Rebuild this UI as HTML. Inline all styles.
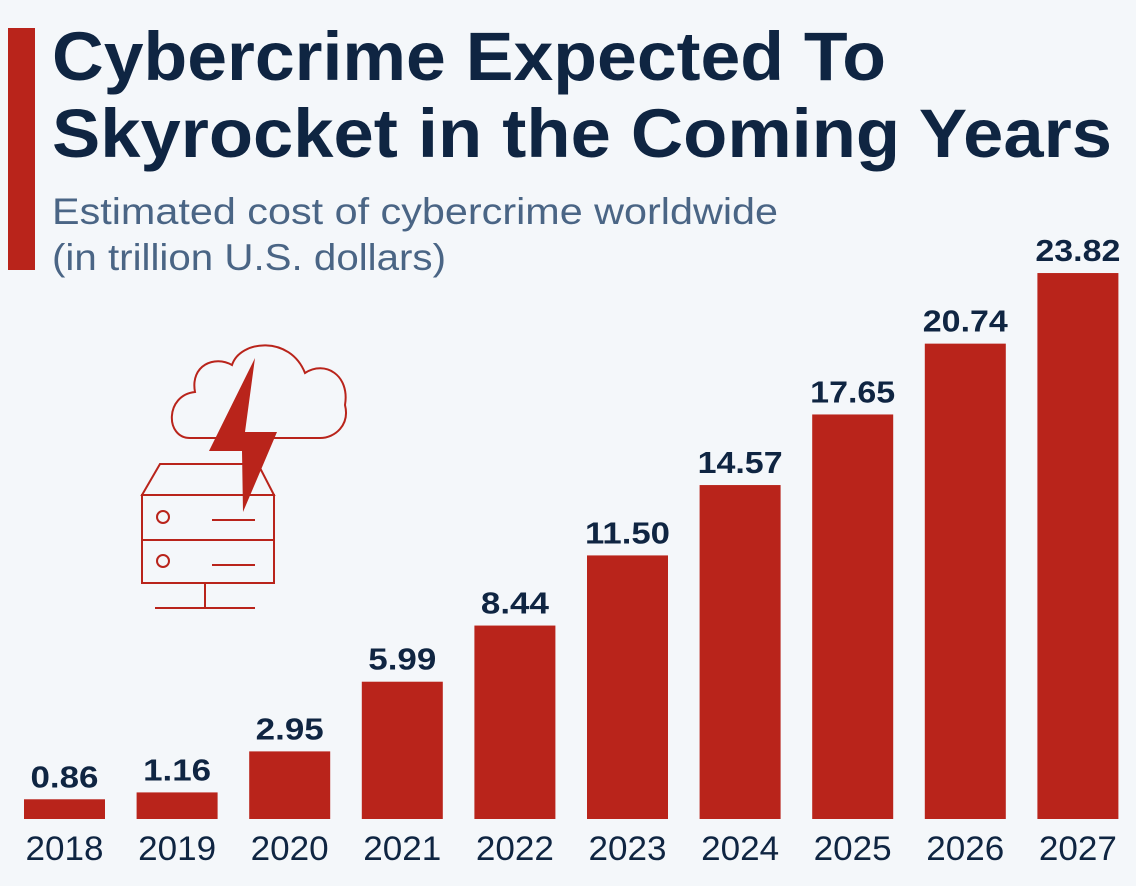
<!DOCTYPE html>
<html><head><meta charset="utf-8"><style>
body{margin:0;background:#f4f7fa;}
#c{position:relative;width:1136px;height:886px;overflow:hidden;background:#f4f7fa;font-family:"Liberation Sans",sans-serif;}
</style></head><body>
<div id="c">
<svg width="1136" height="886">
<rect x="8" y="28" width="27" height="242" fill="#b9241b"/>
<text x="52" y="80" font-size="69" font-weight="bold" fill="#0f2542" textLength="834" lengthAdjust="spacingAndGlyphs">Cybercrime Expected To</text>
<text x="52" y="157" font-size="69" font-weight="bold" fill="#0f2542" textLength="1060" lengthAdjust="spacingAndGlyphs">Skyrocket in the Coming Years</text>
<text x="52" y="224" font-size="37" fill="#4a6585" textLength="726" lengthAdjust="spacingAndGlyphs">Estimated cost of cybercrime worldwide</text>
<text x="52" y="270" font-size="37" fill="#4a6585" textLength="394" lengthAdjust="spacingAndGlyphs">(in trillion U.S. dollars)</text>
<g fill="none" stroke="#b9241b" stroke-width="2">
<path d="M190,438 C165,438 165,395 195,392 C190,365 215,355 232,365 C240,340 290,335 305,373 C325,360 350,375 345,405 C350,425 335,438 320,438 Z"/>
<path d="M142,495 L160,464 L258,464 L274,495 Z M142,495 H274 V583 H142 Z M142,540 H274"/>
<circle cx="163" cy="517" r="6"/><circle cx="163" cy="561" r="6"/>
<path d="M212,520 H255 M212,565 H255 M205,583 V608 M155,608 H255"/>
<polygon points="255,358 209,451 242,451 243,512 277,432 245,432" fill="#b9241b" stroke="none"/>
</g>
<g id="bars"></g>
</svg>
</div>
<script>
const years=["2018","2019","2020","2021","2022","2023","2024","2025","2026","2027"];
const values=[0.86,1.16,2.95,5.99,8.44,11.50,14.57,17.65,20.74,23.82];
const labels=["0.86","1.16","2.95","5.99","8.44","11.50","14.57","17.65","20.74","23.82"];
const NS="http://www.w3.org/2000/svg";
const g=document.getElementById('bars');
const base=819,scale=22.92,x0=24,pitch=112.6,bw=81;
function xs(i){return x0+i*pitch;}
function ys(v){return base-v*scale;}
years.forEach((y,i)=>{
  const r=document.createElementNS(NS,'rect');
  r.setAttribute('x',xs(i));r.setAttribute('y',ys(values[i]));
  r.setAttribute('width',bw);r.setAttribute('height',base-ys(values[i]));
  r.setAttribute('fill','#b9241b');
  
  
  g.appendChild(r);
  const t=document.createElementNS(NS,'text');
  t.setAttribute('x',xs(i)+bw/2);t.setAttribute('y',ys(values[i])-12);
  t.setAttribute('text-anchor','middle');t.setAttribute('font-size','31');
  t.setAttribute('font-weight','bold');t.setAttribute('fill','#0f2542');
  t.setAttribute('textLength',labels[i].length*17);t.setAttribute('lengthAdjust','spacingAndGlyphs');
  t.textContent=labels[i];
  
  
  g.appendChild(t);
  const l=document.createElementNS(NS,'text');
  l.setAttribute('x',xs(i)+bw/2);l.setAttribute('y',860);
  l.setAttribute('text-anchor','middle');l.setAttribute('font-size','34');
  l.setAttribute('fill','#0f2542');
  l.setAttribute('textLength','78');l.setAttribute('lengthAdjust','spacingAndGlyphs');
  l.textContent=y;
  
  
  g.appendChild(l);
});
</script>
</body></html>
